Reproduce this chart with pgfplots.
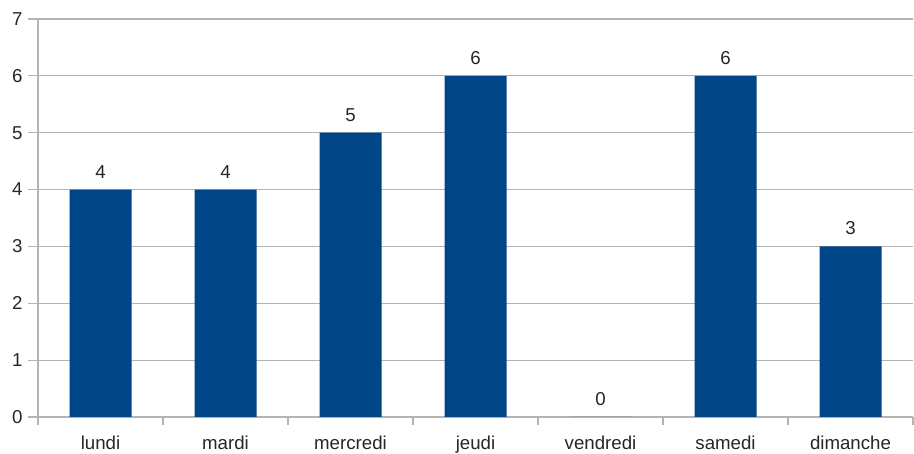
\documentclass[border=0pt]{standalone}
\usepackage{pgfplots}
\pgfplotsset{compat=1.18}
\usepackage{fontspec}
\setmainfont{Liberation Sans}
\definecolor{barblue}{HTML}{004586}
\definecolor{gridgray}{HTML}{B3B3B3}

\begin{document}
\begin{tikzpicture}
\begin{axis}[
    name=ax,
    scale only axis,
    width=656.25pt,
    height=298.5pt,
    ybar,
    bar width=46.5pt,
    xmin=-0.5, xmax=6.5,
    ymin=0, ymax=7,
    xtick={0,...,6},
    xticklabels={lundi,mardi,mercredi,jeudi,vendredi,samedi,dimanche},
    minor xtick={-0.5,0.5,...,6.5},
    ytick={0,...,7},
    ymajorgrids=true,
    grid style={gridgray, line width=0.9pt},
    axis line style={gridgray, line width=0.9pt},
    axis x line*=bottom,
    axis y line*=left,
    tick align=outside,
    major x tick style={draw=none},
    minor x tick style={gridgray, line width=0.9pt},
    minor tick length=6pt,
    y tick style={gridgray, line width=0.9pt},
    major tick length=7.5pt,
    tick label style={font=\fontsize{14}{16}\selectfont, text=black!85},
    xticklabel style={yshift=-3pt},
    yticklabel style={xshift=-0.5pt},
    /pgf/number format/assume math mode=true,
    nodes near coords,
    every node near coord/.append style={font=\fontsize{14}{16}\selectfont, text=black!85, yshift=5pt},
    clip=false,
]
\addplot[fill=barblue, draw=none] coordinates {
    (0,4) (1,4) (2,5) (3,6) (4,0) (5,6) (6,3)
};
\end{axis}
\pgfresetboundingbox
\path[use as bounding box] ([shift={(-28.5pt,-27.75pt)}]ax.south west) rectangle ([shift={(0.75pt,14.25pt)}]ax.north east);
\end{tikzpicture}
\end{document}
